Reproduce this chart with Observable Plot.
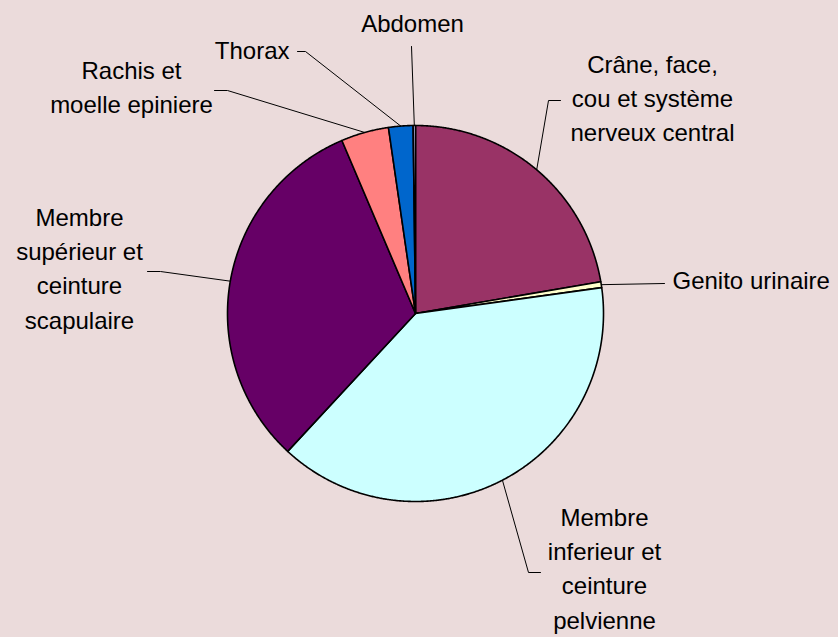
<!DOCTYPE html>
<html>
<head>
<meta charset="utf-8">
<script src="https://cdn.jsdelivr.net/npm/d3@7"></script>
<script src="https://cdn.jsdelivr.net/npm/@observablehq/plot@0.6"></script>
<style>
  html, body { margin: 0; padding: 0; background: #EBDBDB; }
  #chart { width: 838px; height: 637px; }
</style>
</head>
<body>
<div id="chart"></div>
<script>
// ---- data ----
const categories = [
  "Crâne, face,\ncou et système\nnerveux central",
  "Genito urinaire",
  "Membre\ninferieur et\nceinture\npelvienne",
  "Membre\nsupérieur et\nceinture\nscapulaire",
  "Rachis et\nmoelle epiniere",
  "Thorax",
  "Abdomen"
];
const values = [22.3, 0.5, 39.1, 31.7, 4.1, 2.1, 0.2];
const colors = ["#993366", "#FFFFCC", "#CCFFFF", "#660066", "#FF8080", "#0066CC", "#CCCCFF"];

// ---- layout (frame pixels) ----
const W = 838, H = 637, cx = 415, cy = 313, R = 188;
const labelLayout = [
  {text: [652, 99], anchor: "middle", path: [[560, 100], [548, 100]]},
  {text: [672, 281], anchor: "start", path: [[664, 283]]},
  {text: [604, 569], anchor: "middle", path: [[540, 572], [528, 572]]},
  {text: [79, 269], anchor: "middle", path: [[147, 271], [160, 271]]},
  {text: [131, 88], anchor: "middle", path: [[214, 90], [227, 90]]},
  {text: [289, 51], anchor: "end", path: [[297, 51], [305, 51]]},
  {text: [412, 24], anchor: "middle", path: [[411, 46]]}
];

const table = categories.map((name, i) => ({name, value: values[i], color: colors[i]}));
const arcs = d3.pie().sort(null).value(d => d.value).startAngle(0).endAngle(2 * Math.PI)(table);
const pt = (a, r) => [r * Math.sin(a), -r * Math.cos(a)];

const features = arcs.map(a => {
  const ring = [[0, 0]];
  const n = Math.max(2, Math.ceil((a.endAngle - a.startAngle) / 0.005));
  for (let k = 0; k <= n; k++) ring.push(pt(a.startAngle + (a.endAngle - a.startAngle) * k / n, R));
  ring.push([0, 0]);
  return {type: "Feature", properties: {name: a.data.name, color: a.data.color}, geometry: {type: "Polygon", coordinates: [ring]}};
});

const labels = arcs.map((a, i) => ({
  name: a.data.name,
  x: labelLayout[i].text[0] - cx,
  y: labelLayout[i].text[1] - cy,
  anchor: labelLayout[i].anchor
}));

const connectors = arcs.flatMap((a, i) => {
  const mid = (a.startAngle + a.endAngle) / 2;
  const pts = labelLayout[i].path.map(p => [p[0] - cx, p[1] - cy]);
  pts.push(pt(mid, R));
  return pts.map(p => ({name: a.data.name, x: p[0], y: p[1]}));
});

const textOpts = {
  x: "x", y: "y", text: "name", dy: -3,
  fontSize: 24, lineHeight: 1.42, fill: "black", lineAnchor: "middle"
};

const chart = Plot.plot({
  width: W, height: H, margin: 0,
  style: {background: "#EBDBDB", fontFamily: "'Liberation Sans', Arial, sans-serif"},
  projection: {type: "identity", domain: {type: "MultiPoint", coordinates: [[-cx, -cy], [W - cx, H - cy]]}},
  color: {type: "identity"},
  marks: [
    Plot.line(connectors, {x: "x", y: "y", z: "name", stroke: "black", strokeWidth: 1}),
    Plot.geo(features, {fill: d => d.properties.color, stroke: "black", strokeWidth: 1.6, strokeLinejoin: "round"}),
    Plot.text(labels.filter(d => d.anchor === "middle"), {...textOpts, textAnchor: "middle"}),
    Plot.text(labels.filter(d => d.anchor === "start"), {...textOpts, textAnchor: "start"}),
    Plot.text(labels.filter(d => d.anchor === "end"), {...textOpts, textAnchor: "end"})
  ]
});
document.getElementById("chart").appendChild(chart);
</script>
</body>
</html>
